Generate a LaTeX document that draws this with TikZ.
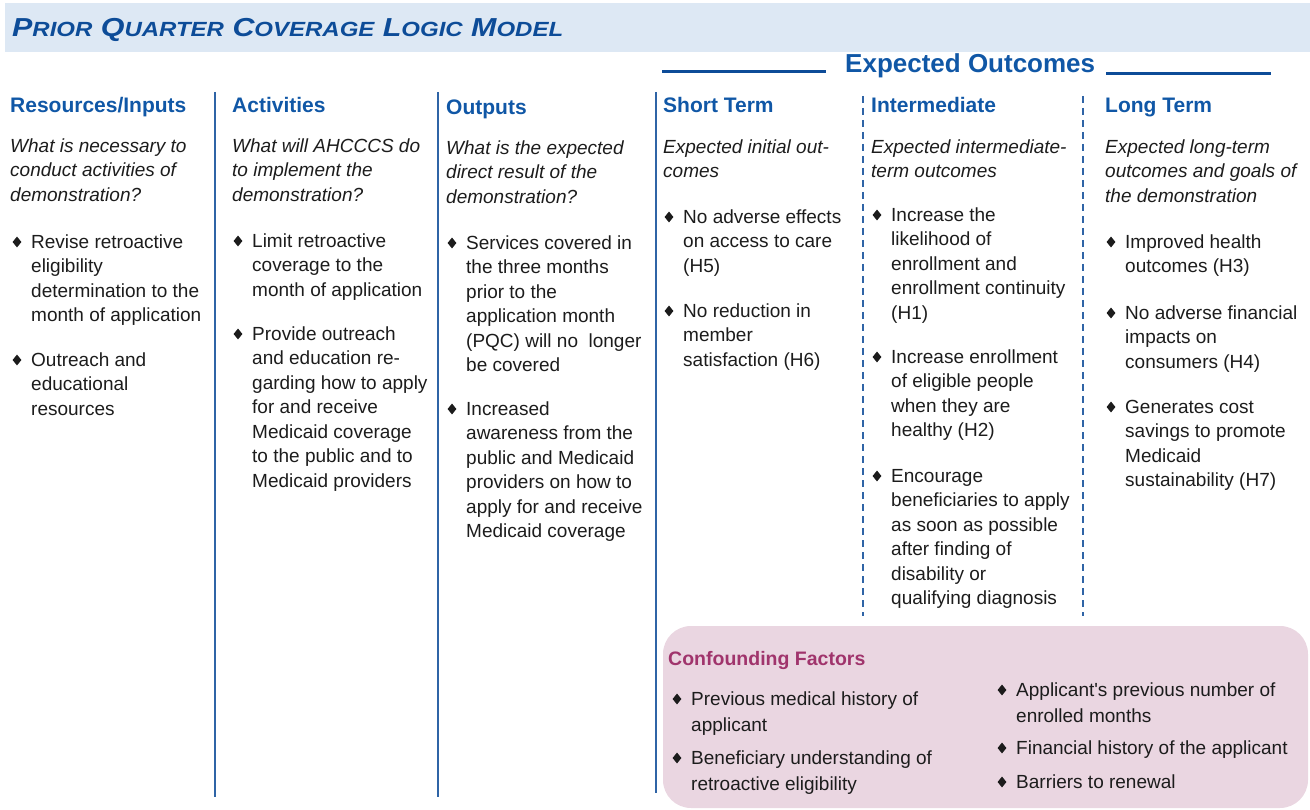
\documentclass[tikz,border=0pt]{standalone}
\usepackage{fontspec}
\setmainfont{Liberation Sans}
\newfontfamily\titlefont[FakeStretch=1.17]{Liberation Sans}
\usetikzlibrary{shapes.geometric}

\definecolor{bandblue}{HTML}{DDE8F4}
\definecolor{titleblue}{HTML}{0D4C98}
\definecolor{headblue}{HTML}{1057A6}
\definecolor{lineblue}{HTML}{2F64A6}
\definecolor{textdark}{HTML}{1C1C1C}
\definecolor{boxpink}{HTML}{EAD6E1}
\definecolor{confred}{HTML}{A0346C}

% big first letter, smaller capitals after it
\newcommand\tsc[2]{{\fontsize{26}{26}\selectfont#1}{\fontsize{20.5}{26}\selectfont#2}}

% text block placed by the baseline of its first line
\newcommand\para[4]{%
  \node[#1] (#2) at ([yshift=\strutht]#3) {\strut#4};
}
% a bullet item: diamond left of the first line
\newcommand\bul[3]{%
  \coordinate (#1-b) at (#2);
  \node[bullettext] (#1) at ([yshift=\strutht]#1-b) {\strut#3};
  \node[dia] at ([xshift=-14pt,yshift=6pt]#1-b) {};
}
\def\strutht{17.15pt}

\begin{document}
\begin{tikzpicture}[x=1pt,y=-1pt]
    \tikzset{colhead/.style = {anchor=base west,inner sep=0,text=headblue,font=\fontsize{21}{24}\selectfont\bfseries}}
    \tikzset{prompt/.style = {anchor=north west,inner sep=0,align=left,text=textdark,font=\fontsize{19}{24.5}\selectfont\itshape}}
    \tikzset{bullettext/.style = {anchor=north west,inner sep=0,align=left,text=textdark,font=\fontsize{19}{24.5}\selectfont}}
    \tikzset{dia/.style = {shape=diamond,fill=textdark,inner sep=0,minimum width=9pt,minimum height=11pt}}
    \tikzset{rule/.style = {draw=lineblue,line width=2.5pt}}
    \tikzset{dashrule/.style = {draw=lineblue,line width=1.8pt,dash pattern=on 7pt off 5pt}}
    \useasboundingbox (0,0) rectangle (1310,810);
    % title band
    \fill[bandblue] (5,3) rectangle (1310,52);
    \node[anchor=base west,inner sep=0,text=titleblue,font=\titlefont\fontsize{26}{26}\selectfont\bfseries\itshape] (title) at (12,37)
      {\tsc{P}{RIOR} \tsc{Q}{UARTER} \tsc{C}{OVERAGE} \tsc{L}{OGIC} \tsc{M}{ODEL}};
    % expected outcomes banner
    \node[anchor=base west,inner sep=0,text=headblue,font=\fontsize{26}{28}\selectfont\bfseries] (outcomes) at (845,73) {Expected Outcomes};
    \draw[draw=titleblue,line width=3pt] (662,72) -- (826,72);
    \draw[draw=titleblue,line width=3pt] (1106,74) -- (1271,74);
    % column separators
    \draw[rule] (215,92) -- (215,797);
    \draw[rule] (438,92) -- (438,797);
    \draw[rule] (656,92) -- (656,793);
    \draw[dashrule] (863,96) -- (863,616);
    \draw[dashrule] (1083,96) -- (1083,616);
    % column headings
    \node[colhead] (res) at (10,113) {Resources/Inputs};
    \node[colhead] (act) at (232,113) {Activities};
    \node[colhead] (out) at (446,115) {Outputs};
    \node[colhead] (short) at (663,113) {Short Term};
    \node[colhead] (inter) at (871,113) {Intermediate};
    \node[colhead] (long) at (1105,113) {Long Term};
    % questions under the headings
    \para{prompt}{resq}{10,152}{What is necessary to\\conduct activities of\\demonstration?}
    \para{prompt}{actq}{232,152}{What will AHCCCS do\\to implement the\\demonstration?}
    \para{prompt}{outq}{446,154}{What is the expected\\direct result of the\\demonstration?}
    \para{prompt}{shortq}{663,153}{Expected initial out-\\comes}
    \para{prompt}{interq}{871,153}{Expected intermediate-\\term outcomes}
    \para{prompt}{longq}{1105,153}{Expected long-term\\outcomes and goals of\\the demonstration}
    % resources
    \bul{res1}{31,248}{Revise retroactive\\eligibility\\determination to the\\month of application}
    \bul{res2}{31,366}{Outreach and\\educational\\resources}
    % activities
    \bul{act1}{252,247}{Limit retroactive\\coverage to the\\month of application}
    \bul{act2}{252,340}{Provide outreach\\and education re-\\garding how to apply\\for and receive\\Medicaid coverage\\to the public and to\\Medicaid providers}
    % outputs
    \bul{out1}{466,249}{Services covered in\\the three months\\prior to the\\application month\\(PQC) will no \ longer\\be covered}
    \bul{out2}{466,415}{Increased\\awareness from the\\public and Medicaid\\providers on how to\\apply for and receive\\Medicaid coverage}
    % short term
    \bul{short1}{683,223}{No adverse effects\\on access to care\\(H5)}
    \bul{short2}{683,317}{No reduction in\\member\\satisfaction (H6)}
    % intermediate
    \bul{inter1}{891,221}{Increase the\\likelihood of\\enrollment and\\enrollment continuity\\(H1)}
    \bul{inter2}{891,363}{Increase enrollment\\of eligible people\\when they are\\healthy (H2)}
    \bul{inter3}{891,482}{Encourage\\beneficiaries to apply\\as soon as possible\\after finding of\\disability or\\qualifying diagnosis}
    % long term
    \bul{long1}{1125,248}{Improved health\\outcomes (H3)}
    \bul{long2}{1125,319}{No adverse financial\\impacts on\\consumers (H4)}
    \bul{long3}{1125,413}{Generates cost\\savings to promote\\Medicaid\\sustainability (H7)}
    % confounding factors
    \fill[boxpink,rounded corners=28pt] (663,626) rectangle (1308,808);
    \node[anchor=base west,inner sep=0,text=confred,font=\fontsize{19.5}{24}\selectfont\bfseries] (conf) at (668,665) {Confounding Factors};
    \tikzset{bullettext/.append style = {font=\fontsize{19}{26}\selectfont}}
    \def\strutht{18.2pt}
    \bul{conf1}{691,705}{Previous medical history of\\applicant}
    \bul{conf2}{691,764}{Beneficiary understanding of\\retroactive eligibility}
    \bul{conf3}{1016,696}{Applicant\textquotesingle s previous number of\\enrolled months}
    \bul{conf4}{1016,754}{Financial history of the applicant}
    \bul{conf5}{1016,788}{Barriers to renewal}
\end{tikzpicture}
\end{document}
